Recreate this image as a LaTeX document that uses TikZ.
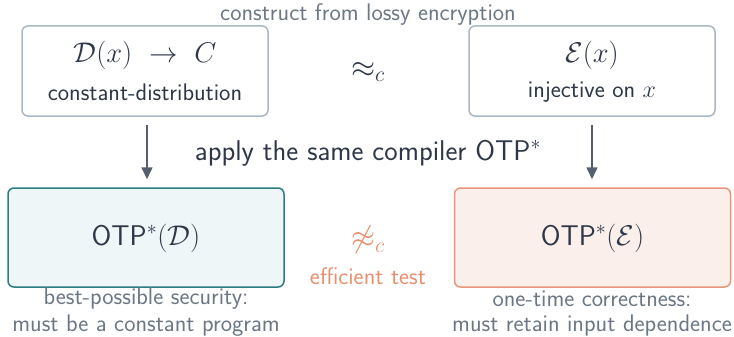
\RequirePackage{fix-cm}
\documentclass[tikz,border=0pt]{standalone}
\usepackage{amsmath,amssymb}
\usepackage{fontspec}
\usetikzlibrary{arrows.meta}
\renewcommand{\familydefault}{\sfdefault}
\definecolor{ink}{HTML}{2D3748}
\definecolor{muted}{HTML}{6B7785}
\definecolor{greyedge}{HTML}{A9B8C3}
\definecolor{tealedge}{HTML}{2A7C80}
\definecolor{tealfill}{HTML}{EEF6F8}
\definecolor{salmonedge}{HTML}{E9967C}
\definecolor{salmonfill}{HTML}{FBEFEC}
\definecolor{accent}{HTML}{E8906E}
\definecolor{arrowc}{HTML}{555F6E}
\newcommand{\smallsz}{\fontsize{24}{28}\selectfont}
\newcommand{\bigsz}{\fontsize{28.5}{33}\selectfont}
\newcommand{\relsz}{\fontsize{31}{36}\selectfont}
\tikzset{
  box/.style={draw, rounded corners=6pt, line width=1.5pt, inner sep=0pt},
  topbox/.style={box, draw=greyedge, fill=white, minimum width=246pt, minimum height=90pt},
  lowbox/.style={box, minimum width=276pt, minimum height=99pt},
  txt/.style={inner sep=0pt, text=ink},
  note/.style={inner sep=0pt, text=muted, font=\sffamily\smallsz},
  arr/.style={draw=arrowc, line width=1.6pt, -{Triangle[length=12pt,width=11pt]}}
}
\begin{document}
\begin{tikzpicture}[x=1pt,y=-1pt,font=\sffamily]
\useasboundingbox (0,0) rectangle (734,337);
% title
\node[note] (title) at (368,15) {construct from lossy encryption};
% top boxes
\node[topbox] (D) at (145,71) {};
\node[txt, font=\bigsz] (Dm) at (145,55) {$\mathcal{D}(x)\ \to\ C$};
\node[txt, font=\smallsz] (Dl) at (145,92) {constant-distribution};
\node[topbox] (E) at (592,71) {};
\node[txt, font=\bigsz] (Em) at (592,55) {$\mathcal{E}(x)$};
\node[txt, font=\smallsz] (El) at (592,92) {injective on $x$};
\node[txt, font=\relsz] (approx) at (368,72) {$\approx_c$};
% compiler label
\node[txt, font=\bigsz] (comp) at (368,153) {apply the same compiler OTP$^*$};
% lower boxes
\node[lowbox, draw=tealedge, fill=tealfill] (OD) at (146,237.5) {};
\node[txt, font=\bigsz] (ODl) at (146,238) {OTP$^*(\mathcal{D})$};
\node[lowbox, draw=salmonedge, fill=salmonfill] (OE) at (592.5,237.5) {};
\node[txt, font=\bigsz] (OEl) at (592.5,238) {OTP$^*(\mathcal{E})$};
\node[txt, text=accent, font=\relsz] (napprox) at (368,240) {$\not\approx_c$};
\node[txt, text=accent, font=\smallsz] (eff) at (368,276) {efficient test};
% arrows
\draw[arr] ([yshift=-8pt]D.south -| 147,0) -- ([yshift=8pt]OD.north -| 147,0);
\draw[arr] ([yshift=-8pt]E.south) -- ([yshift=8pt]E.south |- OE.north);
% captions
\node[note] (c1) at (146,299) {best-possible security:};
\node[note] (c2) at (146,326) {must be a constant program};
\node[note] (c3) at (592,299) {one-time correctness:};
\node[note] (c4) at (592,326) {must retain input dependence};
\end{tikzpicture}
\end{document}
